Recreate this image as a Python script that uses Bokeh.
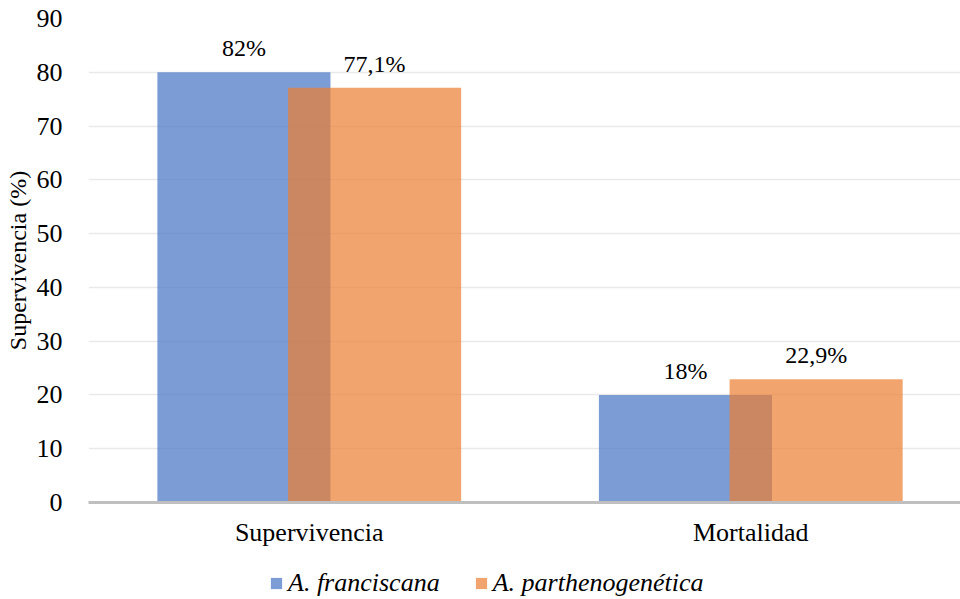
from bokeh.plotting import figure
from bokeh.layouts import column
from bokeh.models import (ColumnDataSource, Range1d, FixedTicker, Legend, LegendItem)
from bokeh.core.properties import value
from bokeh.embed import file_html
from bokeh.resources import INLINE

categories = ["Supervivencia", "Mortalidad"]
series_names = ["A. franciscana", "A. parthenogenética"]
franciscana = [80, 20]
parthenogenetica = [77.1, 22.9]
franciscana_labels = ["82%", "18%"]
parthenogenetica_labels = ["77,1%", "22,9%"]
y_ticks = [0, 10, 20, 30, 40, 50, 60, 70, 80, 90]

FONT = "'Liberation Serif', 'Times New Roman', Tinos, serif"
BLUE = "#4472C4"
ORANGE = "#ED7D31"
ALPHA = 0.7
OFFSET = 0.148
BAR_W = 0.392

idx = list(range(len(categories)))
src_a = ColumnDataSource(dict(x=[i - OFFSET for i in idx], top=franciscana, lab=franciscana_labels))
src_b = ColumnDataSource(dict(x=[i + OFFSET for i in idx], top=parthenogenetica, lab=parthenogenetica_labels))

p = figure(width=960, height=560, output_backend="svg", toolbar_location=None,
           x_range=Range1d(-0.5, 1.475), y_range=Range1d(0, 90),
           min_border_left=88, min_border_right=0, min_border_top=18, min_border_bottom=58)
p.outline_line_color = None
p.background_fill_color = "white"
p.border_fill_color = "white"

r_a = p.vbar(x="x", top="top", width=BAR_W, bottom=0, source=src_a,
             fill_color=BLUE, fill_alpha=ALPHA, line_color=None)
r_b = p.vbar(x="x", top="top", width=BAR_W, bottom=0, source=src_b,
             fill_color=ORANGE, fill_alpha=ALPHA, line_color=None)

for s in (src_a, src_b):
    p.text(x="x", y="top", text="lab", source=s, text_align="center",
           text_baseline="alphabetic", y_offset=-24,
           text_font=value(FONT), text_font_size="24px", text_color="black")

# axes
p.xaxis.ticker = FixedTicker(ticks=idx)
p.xaxis.major_label_overrides = {i: c for i, c in zip(idx, categories)}
p.xaxis.major_label_text_font = FONT
p.xaxis.major_label_text_font_size = "26px"
p.xaxis.major_label_text_color = "black"
p.xaxis.major_label_standoff = 9
p.xaxis.major_tick_line_color = None
p.xaxis.minor_tick_line_color = None
p.xaxis.axis_line_color = "#BFBFBF"
p.xaxis.axis_line_width = 3

p.yaxis.ticker = FixedTicker(ticks=y_ticks)
p.yaxis.major_label_text_font = FONT
p.yaxis.major_label_text_font_size = "26px"
p.yaxis.major_label_text_color = "black"
p.yaxis.major_label_standoff = 20
p.yaxis.major_tick_line_color = None
p.yaxis.minor_tick_line_color = None
p.yaxis.axis_line_color = None
p.yaxis.axis_label = "Supervivencia (%)"
p.yaxis.axis_label_text_font = FONT
p.yaxis.axis_label_text_font_size = "24px"
p.yaxis.axis_label_text_font_style = "normal"
p.yaxis.axis_label_text_color = "black"
p.yaxis.axis_label_standoff = 3

p.xgrid.grid_line_color = None
p.ygrid.ticker = FixedTicker(ticks=y_ticks)
p.ygrid.grid_line_color = "#E9E9E9"
p.ygrid.grid_line_width = 1.5

# legend strip below the chart (same data, drawn outside its visible range)
leg = figure(width=960, height=39, output_backend="svg", toolbar_location=None,
             x_range=Range1d(-0.5, 1.475), y_range=Range1d(1000, 1001),
             min_border=0, x_axis_location=None, y_axis_location=None)
leg.outline_line_color = None
leg.xgrid.visible = False
leg.ygrid.visible = False
la = leg.vbar(x="x", top="top", width=BAR_W, bottom=0, source=src_a,
              fill_color=BLUE, fill_alpha=ALPHA, line_color=None)
lb = leg.vbar(x="x", top="top", width=BAR_W, bottom=0, source=src_b,
              fill_color=ORANGE, fill_alpha=ALPHA, line_color=None)
legend = Legend(items=[LegendItem(label=series_names[0], renderers=[la]),
                       LegendItem(label=series_names[1], renderers=[lb])],
                orientation="horizontal", location=(181, 1),
                label_text_font=FONT, label_text_font_style="italic",
                label_text_font_size="26px", label_text_color="black",
                glyph_width=14, glyph_height=14, label_standoff=5, spacing=34,
                padding=0, margin=0, border_line_color=None,
                background_fill_alpha=0)
leg.add_layout(legend, "center")

layout = column(p, leg, spacing=0)
open("out.html", "w").write(file_html(layout, INLINE))
